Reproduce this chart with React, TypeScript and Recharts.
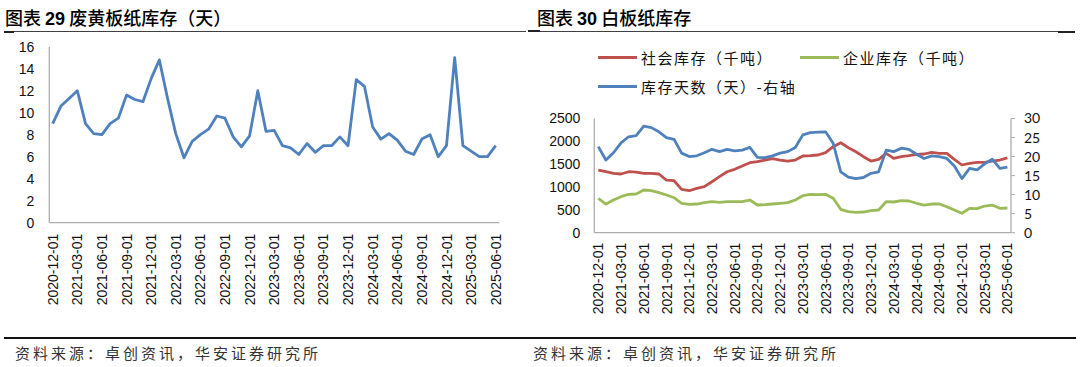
import React from 'react';
import { LineChart, Line, XAxis, YAxis } from 'recharts';

const dates = [
  '2020-12-01',
  '2021-01-01', '2021-02-01', '2021-03-01', '2021-04-01', '2021-05-01', '2021-06-01',
  '2021-07-01', '2021-08-01', '2021-09-01', '2021-10-01', '2021-11-01', '2021-12-01',
  '2022-01-01', '2022-02-01', '2022-03-01', '2022-04-01', '2022-05-01', '2022-06-01',
  '2022-07-01', '2022-08-01', '2022-09-01', '2022-10-01', '2022-11-01', '2022-12-01',
  '2023-01-01', '2023-02-01', '2023-03-01', '2023-04-01', '2023-05-01', '2023-06-01',
  '2023-07-01', '2023-08-01', '2023-09-01', '2023-10-01', '2023-11-01', '2023-12-01',
  '2024-01-01', '2024-02-01', '2024-03-01', '2024-04-01', '2024-05-01', '2024-06-01',
  '2024-07-01', '2024-08-01', '2024-09-01', '2024-10-01', '2024-11-01', '2024-12-01',
  '2025-01-01', '2025-02-01', '2025-03-01', '2025-04-01', '2025-05-01', '2025-06-01',
];

// 图表29 废黄板纸库存（天）
const wasteDays = [
  9.0, 10.6, 11.3, 12.0, 9.0, 8.1, 8.0, 9.0, 9.5, 11.6, 11.2, 11.0, 13.1,
  14.8, 11.3, 8.1, 5.9, 7.4, 8.0, 8.5, 9.7, 9.5, 7.8, 6.9, 7.9, 12.0, 8.3,
  8.4, 7.0, 6.8, 6.2, 7.2, 6.4, 7.0, 7.0, 7.8, 7.0, 13.0, 12.4, 8.7, 7.6,
  8.1, 7.5, 6.5, 6.2, 7.6, 8.0, 6.0, 7.0, 15.0, 7.0, 6.5, 6.0, 6.0, 7.0,
];

// 图表30 白板纸库存
const socialStock = [
  1372, 1335, 1300, 1285, 1335, 1328, 1300, 1300, 1285, 1153, 1138, 950, 919,
  971, 1007, 1116, 1226, 1335, 1387, 1460, 1532, 1554, 1591, 1620, 1591, 1569,
  1591, 1679, 1686, 1701, 1751, 1883, 1970, 1861, 1773, 1664, 1569, 1606, 1738,
  1628, 1664, 1686, 1716, 1723, 1760, 1738, 1738, 1606, 1482, 1519, 1541, 1541,
  1569, 1591, 1640,
];
const enterpriseStock = [
  753, 628, 716, 788, 841, 847, 935, 919, 876, 825, 766, 644, 622,
  628, 657, 679, 665, 679, 679, 679, 716, 606, 613, 628, 644, 657,
  716, 810, 841, 832, 841, 753, 512, 460, 447, 453, 482, 497, 679,
  672, 701, 694, 644, 606, 628, 628, 569, 497, 425, 534, 526, 584,
  606, 534, 541,
];
const stockDays = [
  22.6, 19.1, 21.0, 23.6, 25.2, 25.5, 28.0, 27.6, 26.5, 25.0, 24.5, 20.9, 20.0,
  20.2, 21.0, 21.9, 21.3, 21.9, 21.5, 21.7, 22.4, 19.8, 19.7, 20.2, 20.9, 21.3,
  22.4, 25.7, 26.3, 26.4, 26.5, 23.5, 16.0, 14.6, 14.2, 14.5, 15.6, 16.0, 21.7,
  21.3, 22.2, 21.9, 20.6, 19.5, 20.2, 20.0, 19.5, 17.5, 14.2, 16.9, 16.5, 18.1,
  19.3, 16.9, 17.2,
];

const leftTicks = [0, 2, 4, 6, 8, 10, 12, 14, 16];
const stockTicks = [0, 500, 1000, 1500, 2000, 2500];
const dayTicks = [0, 5, 10, 15, 20, 25, 30];

const title1Pre = '图表 ';
const title1Num = '29';
const title1Post = ' 废黄板纸库存（天）';
const title2Pre = '图表 ';
const title2Num = '30';
const title2Post = ' 白板纸库存';
const sourceText = '资料来源：卓创资讯，华安证券研究所';
const legendNames = ['社会库存（千吨）', '企业库存（千吨）', '库存天数（天）-右轴'];

const BLUE = '#4F81BD';
const RED = '#C0504D';
const GREEN = '#9BBB59';
const AXIS = '#ADADAD';
const SANS = '"Liberation Sans", Arial, sans-serif';
const CJK = '"Noto Sans CJK SC", "Noto Sans", sans-serif';

const data1 = dates.map((d, i) => ({ date: d, v: wasteDays[i] }));
const data2 = dates.map((d, i) => ({
  date: d,
  social: socialStock[i],
  enterprise: enterpriseStock[i],
  days: stockDays[i],
}));

const RotTick = (props: any) => {
  const { x, y, payload } = props;
  return (
    <text
      x={x}
      y={y}
      transform={`rotate(-90, ${x}, ${y})`}
      textAnchor="end"
      dy="0.36em"
      fontSize={14}
      fontFamily={SANS}
      fill="#111"
    >
      {payload.value}
    </text>
  );
};

const LegendItem = ({ left, top, color, label }: any) => (
  <div style={{ position: 'absolute', left, top, height: 20, display: 'flex', alignItems: 'center' }}>
    <div style={{ width: 39, height: 3, background: color, marginRight: 4 }} />
    <span style={{ fontFamily: CJK, fontSize: 15, color: '#111', letterSpacing: 1.5, whiteSpace: 'nowrap' }}>
      {label}
    </span>
  </div>
);

export default function App() {
  return (
    <div
      style={{
        position: 'absolute',
        left: 0,
        top: 0,
        width: 1080,
        height: 367,
        background: '#fff',
        overflow: 'hidden',
      }}
    >
      {/* Titles */}
      <div style={{ position: 'absolute', left: 5, top: 4, fontFamily: CJK, fontSize: 18, fontWeight: 500, color: '#000', whiteSpace: 'nowrap' }}>
        {title1Pre}
        <span style={{ fontFamily: SANS, fontWeight: 'bold' }}>{title1Num}</span>
        {title1Post}
      </div>
      <div style={{ position: 'absolute', left: 537, top: 4, fontFamily: CJK, fontSize: 18, fontWeight: 500, color: '#000', whiteSpace: 'nowrap' }}>
        {title2Pre}
        <span style={{ fontFamily: SANS, fontWeight: 'bold' }}>{title2Num}</span>
        {title2Post}
      </div>
      {/* title rules */}
      <div style={{ position: 'absolute', left: 4, top: 31, width: 522, height: 1, background: '#404040' }} />
      <div style={{ position: 'absolute', left: 4, top: 31, width: 10, height: 2, background: '#222' }} />
      <div style={{ position: 'absolute', left: 528, top: 30, width: 12, height: 2, background: '#222' }} />
      <div style={{ position: 'absolute', left: 540, top: 31, width: 535, height: 1, background: '#404040' }} />
      <div style={{ position: 'absolute', left: 1058, top: 31, width: 17, height: 2, background: '#222' }} />

      {/* Left chart */}
      <div style={{ position: 'absolute', left: 0, top: 0 }}>
        <LineChart
          width={540}
          height={330}
          data={data1}
          margin={{ top: 46.7, right: 40.7, left: 0, bottom: 17.3 }}
        >
          <XAxis
            dataKey="date"
            interval={2}
            height={90}
            tick={<RotTick />}
            tickLine={false}
            tickSize={0}
            tickMargin={11}
            axisLine={{ stroke: AXIS, strokeWidth: 1.3 }}
            padding={{ left: 3.4, right: 3.6 }}
          />
          <YAxis
            width={49.3}
            domain={[0, 16]}
            ticks={leftTicks}
            interval={0}
            tickLine={false}
            tickSize={0}
            tickMargin={15}
            axisLine={{ stroke: AXIS, strokeWidth: 1.3 }}
            tick={{ fontSize: 14, fontFamily: SANS, fill: '#111' }}
          />
          <Line
            type="linear"
            dataKey="v"
            stroke={BLUE}
            strokeWidth={2.8}
            dot={false}
            isAnimationActive={false}
            strokeLinejoin="round"
          />
        </LineChart>
      </div>

      {/* Right chart */}
      <div style={{ position: 'absolute', left: 540, top: 0 }}>
        <LineChart
          width={540}
          height={330}
          data={data2}
          margin={{ top: 118.5, right: 0, left: 0, bottom: 7.3 }}
        >
          <XAxis
            dataKey="date"
            interval={2}
            height={90}
            tick={<RotTick />}
            tickLine={false}
            tickSize={0}
            tickMargin={10}
            axisLine={{ stroke: AXIS, strokeWidth: 1.3 }}
            padding={{ left: 4, right: 3.6 }}
          />
          <YAxis
            yAxisId="left"
            width={54.3}
            domain={[0, 2500]}
            ticks={stockTicks}
            interval={0}
            tickLine={false}
            tickSize={0}
            tickMargin={14}
            axisLine={{ stroke: AXIS, strokeWidth: 1.3 }}
            tick={{ fontSize: 14, fontFamily: SANS, fill: '#111' }}
          />
          <YAxis
            yAxisId="right"
            orientation="right"
            width={69}
            domain={[0, 30]}
            ticks={dayTicks}
            interval={0}
            tickLine={{ stroke: AXIS }}
            tickSize={4}
            tickMargin={9}
            axisLine={{ stroke: AXIS, strokeWidth: 1.3 }}
            tick={{ fontSize: 14, fontFamily: 'Lato, sans-serif', fill: '#111' }}
          />
          <Line
            yAxisId="left"
            type="linear"
            dataKey="social"
            stroke={RED}
            strokeWidth={2.8}
            dot={false}
            isAnimationActive={false}
            strokeLinejoin="round"
          />
          <Line
            yAxisId="left"
            type="linear"
            dataKey="enterprise"
            stroke={GREEN}
            strokeWidth={2.8}
            dot={false}
            isAnimationActive={false}
            strokeLinejoin="round"
          />
          <Line
            yAxisId="right"
            type="linear"
            dataKey="days"
            stroke={BLUE}
            strokeWidth={2.8}
            dot={false}
            isAnimationActive={false}
            strokeLinejoin="round"
          />
        </LineChart>
      </div>

      {/* Legend of right chart */}
      <LegendItem left={598} top={47} color={RED} label={legendNames[0]} />
      <LegendItem left={800} top={47} color={GREEN} label={legendNames[1]} />
      <LegendItem left={598} top={76} color={BLUE} label={legendNames[2]} />

      {/* Footer */}
      <div style={{ position: 'absolute', left: 4, top: 337, width: 1072, height: 2, background: '#111' }} />
      <div style={{ position: 'absolute', left: 15, top: 342, fontFamily: CJK, fontSize: 15, color: '#333', letterSpacing: 3, whiteSpace: 'nowrap' }}>
        {sourceText}
      </div>
      <div style={{ position: 'absolute', left: 533, top: 342, fontFamily: CJK, fontSize: 15, color: '#333', letterSpacing: 3, whiteSpace: 'nowrap' }}>
        {sourceText}
      </div>
    </div>
  );
}
